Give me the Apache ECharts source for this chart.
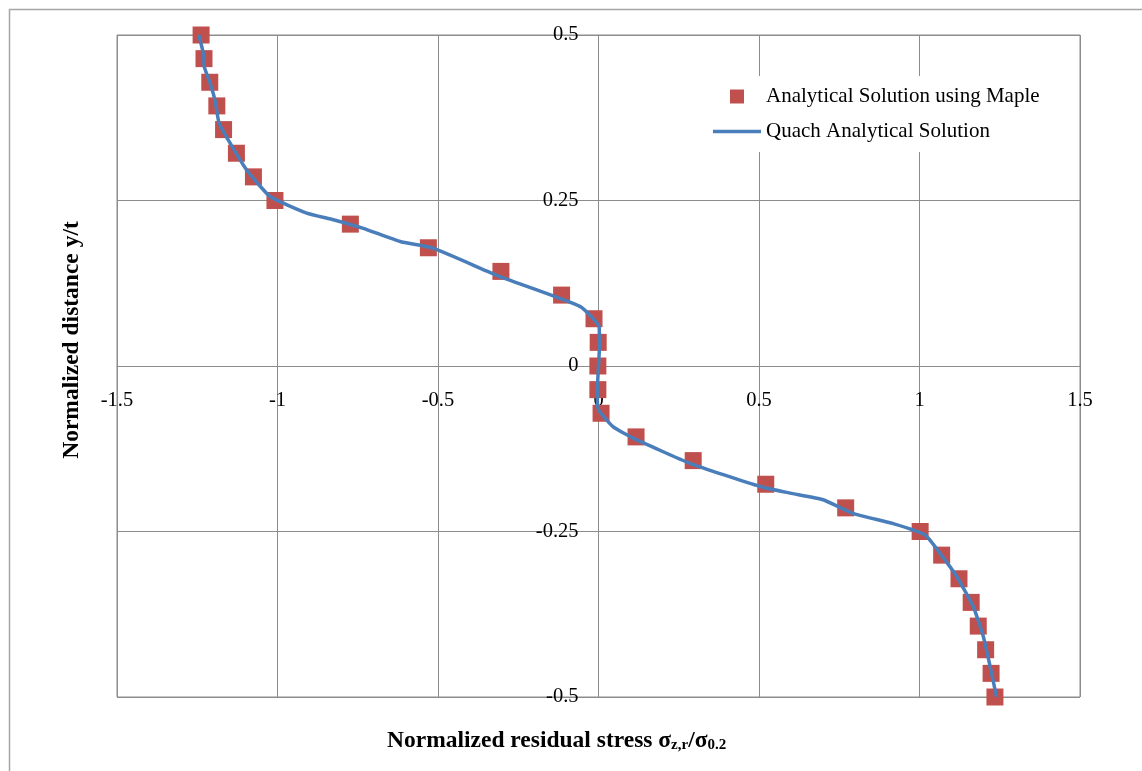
<!DOCTYPE html>
<html>
<head>
<meta charset="utf-8">
<script src="https://cdn.jsdelivr.net/npm/echarts@6/dist/echarts.min.js"></script>
<style>
html,body{margin:0;padding:0;background:#fff;}
#chart{width:1142px;height:771px;}
</style>
</head>
<body>
<div id="chart"></div>
<script>
// Series names
var seriesNames = ['Analytical Solution using Maple', 'Quach Analytical Solution'];

// Analytical Solution using Maple (markers)
var mapleStress = [-1.238, -1.229, -1.211, -1.189, -1.168, -1.128, -1.075, -1.008, -0.773, -0.530, -0.304, -0.115, -0.014, -0.001, -0.002,
                   -0.002, 0.008, 0.117, 0.295, 0.521, 0.770, 1.002, 1.069, 1.123, 1.161, 1.183, 1.206, 1.223, 1.235];
var mapleDistance = [0.5, 0.4643, 0.4286, 0.3929, 0.3571, 0.3214, 0.2857, 0.25, 0.2143, 0.1786, 0.1429, 0.1071, 0.0714, 0.0357, 0,
                     -0.0357, -0.0714, -0.1071, -0.1429, -0.1786, -0.2143, -0.25, -0.2857, -0.3214, -0.3571, -0.3929, -0.4286, -0.4643, -0.5];

// Quach Analytical Solution (line)
var quachStress = [-1.245, -1.231, -1.228, -1.210, -1.195, -1.182, -1.148, -1.096, -1.023, -0.909, -0.826, -0.733, -0.618,
                   -0.515, -0.307, -0.058, 0.002, 0.003, 0.0, -0.004, 0.0, 0.046, 0.108, 0.285, 0.503, 0.597, 0.700, 0.794, 0.918,
                   1.017, 1.064, 1.116, 1.168, 1.199, 1.220, 1.240];
var quachDistance = [0.5, 0.472, 0.452, 0.427, 0.402, 0.367, 0.337, 0.296, 0.256, 0.231, 0.221, 0.208, 0.188,
                     0.178, 0.135, 0.090, 0.059, 0.029, 0.0, -0.041, -0.066, -0.092, -0.109, -0.147, -0.182, -0.192, -0.202, -0.223, -0.238,
                     -0.255, -0.283, -0.318, -0.364, -0.409, -0.454, -0.5];

// Axis ranges [min, max, interval]
var xRange = [-1.5, 1.5, 0.5];
var yRange = [-0.5, 0.5, 0.25];

// Axis titles
var xTitle = ['Normalized residual stress σ', 'z,r', '/σ', '0.2'];
var yTitle = 'Normalized distance y/t';

function pairs(xs, ys) {
  var out = [];
  for (var i = 0; i < xs.length; i++) out.push([xs[i], ys[i]]);
  return out;
}

var serif = "'Liberation Serif', 'Times New Roman', serif";
var gridColor = '#8C8C8C';
var legendText = {fontFamily: serif, fontSize: 21, color: '#000', lineHeight: 20};

var gridBox = {left: 117, right: 62, top: 35, bottom: 74};
var chartW = 1142, chartH = 771;

var chart = echarts.init(document.getElementById('chart'), null, {renderer: 'canvas'});

// The axes cross at the origin: shift the axes from the grid edge to the zero line
var plotW = chartW - gridBox.left - gridBox.right;
var plotH = chartH - gridBox.top - gridBox.bottom;
var xAxisShift = -plotH * (0 - yRange[0]) / (yRange[1] - yRange[0]);
var yAxisShift = -plotW * (0 - xRange[0]) / (xRange[1] - xRange[0]);

chart.setOption({
  animation: false,
  backgroundColor: '#fff',
  grid: Object.assign({show: true, borderColor: gridColor, borderWidth: 1, containLabel: false}, gridBox),
  legend: [
    {
      left: 720, top: 76,
      padding: [10, 20, 5, 10],
      backgroundColor: '#fff',
      itemWidth: 14, itemHeight: 14,
      textStyle: Object.assign({padding: [0, 0, 0, 17]}, legendText),
      data: [{name: seriesNames[0], icon: 'rect'}]
    },
    {
      left: 703, top: 111,
      padding: [10, 10, 10, 10],
      backgroundColor: '#fff',
      itemWidth: 48, itemHeight: 3.5,
      textStyle: legendText,
      data: [{name: seriesNames[1], icon: 'rect'}]
    }
  ],
  xAxis: {
    type: 'value', min: xRange[0], max: xRange[1], interval: xRange[2],
    position: 'bottom', offset: xAxisShift,
    axisLine: {show: true, onZero: false, lineStyle: {color: gridColor, width: 1}},
    axisTick: {show: false},
    axisLabel: {fontFamily: serif, fontSize: 20.5, color: '#000', margin: 24},
    splitLine: {show: true, lineStyle: {color: gridColor, width: 1}}
  },
  yAxis: {
    type: 'value', min: yRange[0], max: yRange[1], interval: yRange[2],
    position: 'left', offset: yAxisShift,
    axisLine: {show: true, onZero: false, lineStyle: {color: gridColor, width: 1}},
    axisTick: {show: false},
    axisLabel: {fontFamily: serif, fontSize: 20.5, color: '#000', margin: 20},
    splitLine: {show: true, lineStyle: {color: gridColor, width: 1}}
  },
  graphic: [
    {type: 'rect', silent: true, z: -10, shape: {x: 9.5, y: 9.5, width: 1300, height: 900},
     style: {fill: 'none', stroke: '#A6A6A6', lineWidth: 1.5}},
    {type: 'text', x: 387, y: 729,
     style: {
       text: '{b|' + xTitle[0] + '}{s|' + xTitle[1] + '}{b|' + xTitle[2] + '}{s|' + xTitle[3] + '}',
       fontFamily: serif,
       rich: {
         b: {fontFamily: serif, fontWeight: 'bold', fontSize: 23.5, fill: '#000', verticalAlign: 'bottom'},
         s: {fontFamily: serif, fontWeight: 'bold', fontSize: 15, fill: '#000', verticalAlign: 'bottom', lineHeight: 15}
       }
     }
    },
    {type: 'text', x: 72, y: 340, rotation: Math.PI / 2,
     style: {text: yTitle, fontFamily: serif, fontWeight: 'bold', fontSize: 23.5, fill: '#000', align: 'center', verticalAlign: 'middle'}
    }
  ],
  series: [
    {
      name: seriesNames[0], type: 'scatter',
      symbol: 'rect', symbolSize: 17,
      itemStyle: {color: '#C0504D', opacity: 1},
      data: pairs(mapleStress, mapleDistance), z: 2
    },
    {
      name: seriesNames[1], type: 'line',
      showSymbol: false, symbol: 'none', smooth: 0.15,
      lineStyle: {color: '#4A7EBB', width: 3.5},
      itemStyle: {color: '#4A7EBB'},
      data: pairs(quachStress, quachDistance), z: 3
    }
  ]
});
</script>
</body>
</html>
